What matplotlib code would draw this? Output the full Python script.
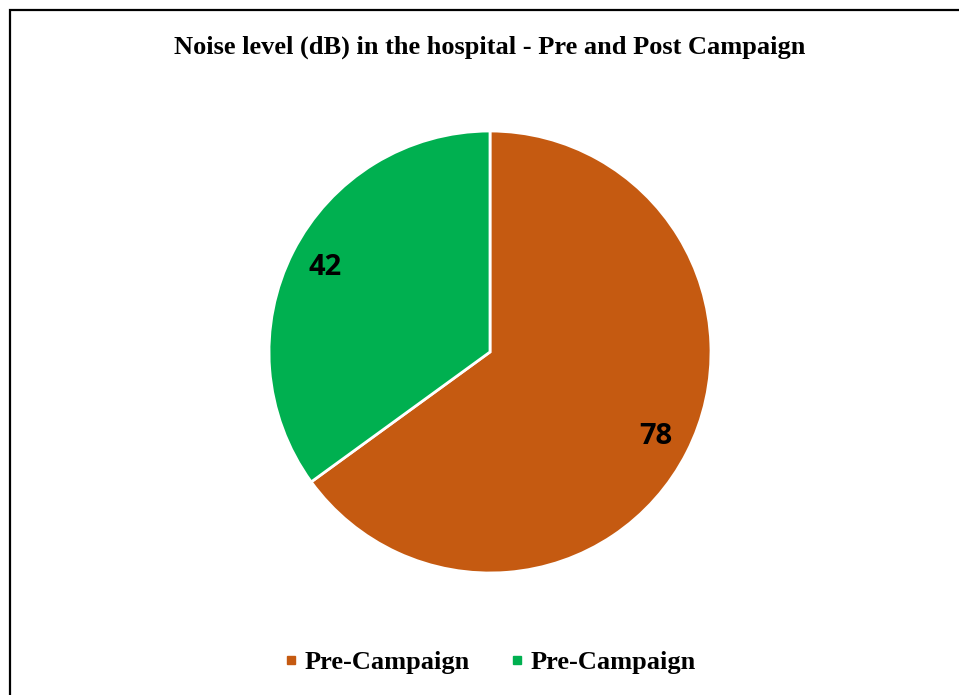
import matplotlib.pyplot as plt
from matplotlib.patches import Rectangle
from matplotlib.lines import Line2D

# data
labels = ['Pre-Campaign', 'Pre-Campaign']
values = [78, 42]
colors = ['#C55A11', '#00B050']

fig = plt.figure(figsize=(9.59, 6.95), dpi=100)

# outer frame (only left and top edges visible in the reference)
fig.patches.append(Rectangle((10 / 959, -0.1), 1.2, 1 - 10 / 695 + 0.1,
                             transform=fig.transFigure, fill=False,
                             edgecolor='black', linewidth=1.6))

ax = fig.add_axes([269 / 959, 1 - 573 / 695, 442 / 959, 442 / 695])
wedges, texts, autotexts = ax.pie(values, colors=colors, startangle=90, counterclock=False,
                                  autopct=lambda p: '%d' % round(p * sum(values) / 100),
                                  pctdistance=0.84,
                                  wedgeprops=dict(edgecolor='white', linewidth=2))
for t in autotexts:
    t.set_fontfamily('Open Sans')
    t.set_fontweight('bold')
    t.set_fontsize(21)
    t.set_color('black')
ax.set_xlim(-1, 1)
ax.set_ylim(-1, 1)
ax.set_aspect('equal')

fig.text(490 / 959, 1 - 47 / 695, 'Noise level (dB) in the hospital - Pre and Post Campaign',
         ha='center', va='center', fontfamily='Liberation Serif', fontweight='bold', fontsize=19)

handles = [Line2D([], [], marker='s', linestyle='', markersize=6, color=c) for c in colors]
fig.legend(handles, labels, loc='center', bbox_to_anchor=(488 / 959, 1 - 662 / 695), ncol=2,
           frameon=False, prop={'family': 'Liberation Serif', 'weight': 'bold', 'size': 19},
           handletextpad=0.1, columnspacing=1.4, handlelength=0.8)

fig.savefig('out.png', dpi=100)
